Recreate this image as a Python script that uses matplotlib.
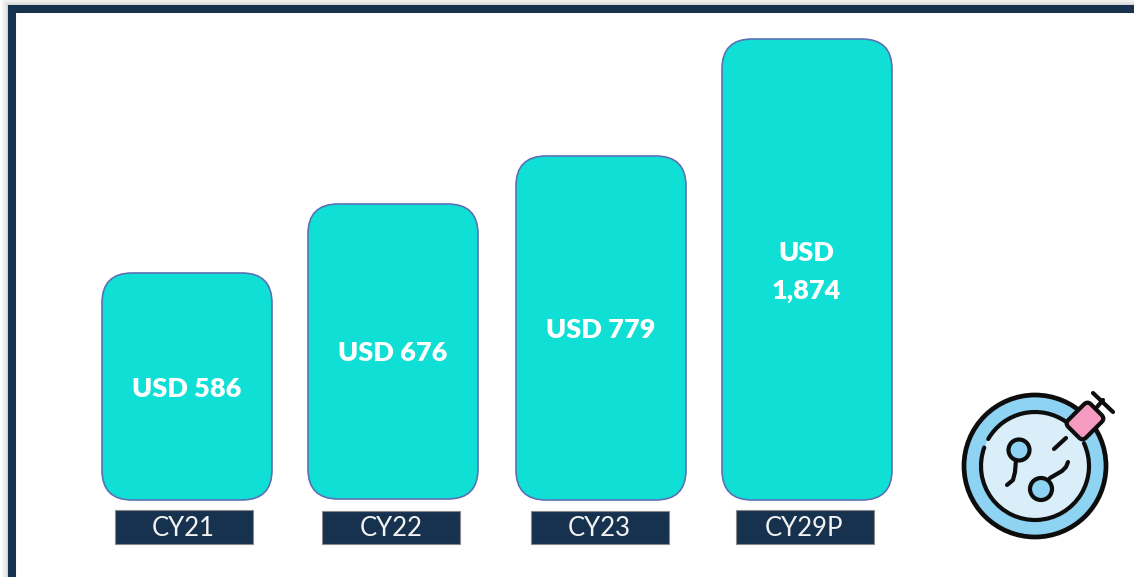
import matplotlib
matplotlib.use('Agg')
import matplotlib.pyplot as plt
from matplotlib.patches import Arc, Circle, FancyBboxPatch, Rectangle
from matplotlib.transforms import Affine2D

plt.rcParams['font.family'] = ['Lato', 'DejaVu Sans']

# heights are the drawn ones (pixels), the bars in the picture are not to scale
years = ['CY21', 'CY22', 'CY23', 'CY29P']
bar_labels = ['USD 586', 'USD 676', 'USD 779', 'USD\n1,874']
bar_heights = [227, 295, 344, 461]

bar_left = [102, 308, 516, 722]
bar_bottom = [500, 499, 500, 500]
label_y = [389, 353, 330, 272]
tag_left = [115, 322, 531, 736]
tag_top = [510, 511, 511, 510]
tag_text_x = [183, 391, 599, 804]

TEAL = '#10dfd5'
NAVY = '#16324f'
INK = '#0d0d0d'

fig = plt.figure(figsize=(11.34, 5.77), dpi=100)
ax = fig.add_axes([0, 0, 1, 1])
ax.set_xlim(0, 1134)
ax.set_ylim(577, 0)
ax.axis('off')

# frame with soft shadow
for off, alpha in [(7, 0.05), (5, 0.07), (3, 0.09), (1, 0.12)]:
    ax.add_patch(Rectangle((8 - off, 5 - off), 1200, 700, fc='#808080', ec='none', alpha=alpha))
ax.add_patch(Rectangle((12, 9), 1200, 700, fc='white', ec=NAVY, lw=5.8))

# bars
for i in range(len(years)):
    top = bar_bottom[i] - bar_heights[i]
    ax.add_patch(FancyBboxPatch((bar_left[i], top), 170, bar_heights[i],
                                boxstyle='round,pad=0,rounding_size=30',
                                fc=TEAL, ec='#5a72b4', lw=1.2))
    ax.text(bar_left[i] + 84.5, label_y[i], bar_labels[i], color='white', fontsize=19.5,
            fontweight='heavy', ha='center', va='center', linespacing=1.65)
    ax.add_patch(Rectangle((tag_left[i], tag_top[i]), 138, 544 - tag_top[i],
                           fc=NAVY, ec='#8a8a8a', lw=0.8))
    ax.text(tag_text_x[i], 529, years[i], color='#f2f2f2', fontsize=18.5,
            ha='center', va='center')

# petri dish icon
cx, cy = 1035, 466
ax.add_patch(Circle((cx, cy), 71, fc='#8fd3f2', ec=INK, lw=3.4))
ax.add_patch(Circle((cx, cy), 54, fc='#d9eef9', ec='none'))
ax.add_patch(Arc((cx, cy), 108, 108, theta1=-25, theta2=200, color=INK, lw=3, capstyle='round'))
ax.add_patch(Arc((cx, cy), 108, 108, theta1=210, theta2=305, color=INK, lw=3, capstyle='round'))

# the two cells
ax.add_patch(Circle((1019, 450), 10.5, fc='#8fd3f2', ec=INK, lw=3))
ax.plot([1016, 1015, 1013, 1007], [460, 472, 480, 485], color=INK, lw=3,
        solid_capstyle='round', solid_joinstyle='round')
ax.add_patch(Circle((1041, 489), 11, fc='#8fd3f2', ec=INK, lw=3))
ax.plot([1050, 1062, 1066, 1068], [478, 471, 467, 462], color=INK, lw=3,
        solid_capstyle='round', solid_joinstyle='round')

# syringe
ax.plot([1054, 1066], [449, 438], color=INK, lw=3, solid_capstyle='round')
rot = Affine2D().rotate_deg_around(1085, 421, -45)
ax.add_patch(FancyBboxPatch((1069, 408.5), 32, 25, boxstyle='round,pad=0,rounding_size=5',
                            fc='#f59ac0', ec=INK, lw=3, transform=rot + ax.transData))
ax.plot([1097, 1103], [407, 400], color=INK, lw=3, solid_capstyle='round')
ax.plot([1093, 1113], [393, 412], color=INK, lw=3, solid_capstyle='round')

fig.savefig('out.png', dpi=100)
